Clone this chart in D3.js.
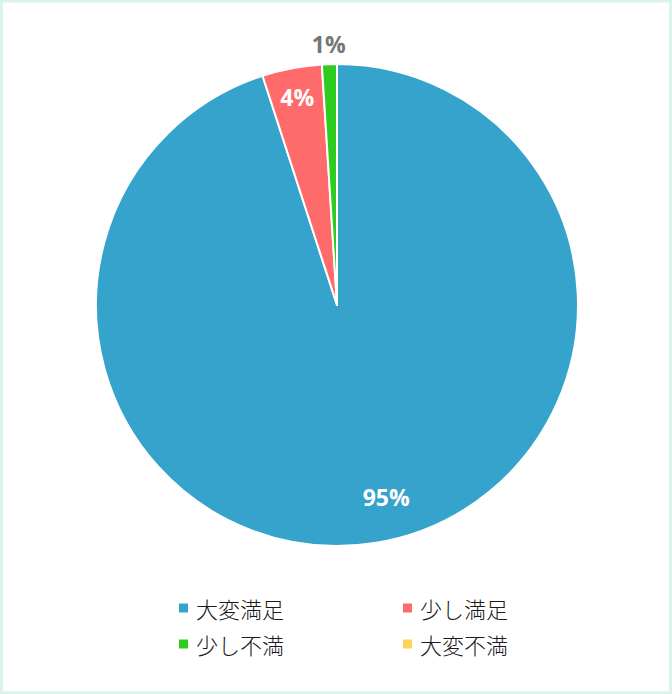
<!DOCTYPE html>
<html>
<head>
<meta charset="utf-8">
<script src="https://cdn.jsdelivr.net/npm/d3@7"></script>
<style>
  html, body { margin: 0; padding: 0; background: #fff; }
  #chart { width: 672px; height: 694px; }
</style>
</head>
<body>
<div id="chart"></div>
<script>
// Chart data
const categories = ["大変満足", "少し満足", "少し不満", "大変不満"];
const values = [95, 4, 1, 0];
const colors = ["#36a3cd", "#ff6b6b", "#2dcc1e", "#ffd25e"];

const width = 672, height = 694;
const cx = 337, cy = 305, radius = 241;

const svg = d3.select("#chart").append("svg")
  .attr("width", width)
  .attr("height", height);

// light frame round the picture
svg.append("rect")
  .attr("x", 1.5).attr("y", 1)
  .attr("width", width - 3).attr("height", height - 2)
  .attr("fill", "none")
  .attr("stroke", "#d7f5eb")
  .attr("stroke-width", 3);

const data = categories.map((c, i) => ({ name: c, value: values[i], color: colors[i] }));

const pie = d3.pie().value(d => d.value).sort(null);
const arcs = pie(data);

const arc = d3.arc().innerRadius(0).outerRadius(radius);

const g = svg.append("g").attr("transform", `translate(${cx},${cy})`);

g.selectAll("path")
  .data(arcs.filter(d => d.value > 0))
  .join("path")
  .attr("d", arc)
  .attr("fill", d => d.data.color)
  .attr("stroke", "#fff")
  .attr("stroke-width", 2)
  .attr("stroke-linejoin", "round");

// percentage labels: inside for big slices, outside for the tiny one
const labelArc = d3.arc().innerRadius(radius * 0.88).outerRadius(radius * 0.88);
const outerArc = d3.arc().innerRadius(radius + 20).outerRadius(radius + 20);
// the big slice label sits a bit off its mid-angle in the original
const labelNudge = { "大変満足": [16, -17] };

g.selectAll("text.pct")
  .data(arcs.filter(d => d.value > 0))
  .join("text")
  .attr("class", "pct")
  .attr("transform", d => {
    const p = d.value < 2 ? outerArc.centroid(d) : labelArc.centroid(d);
    const n = labelNudge[d.data.name] || [0, 0];
    return `translate(${p[0] + n[0]},${p[1] + n[1]})`;
  })
  .attr("text-anchor", "middle")
  .attr("dominant-baseline", "central")
  .attr("font-family", "'Open Sans', 'Noto Sans', sans-serif")
  .attr("font-weight", "bold")
  .attr("font-size", 23)
  .attr("fill", d => d.value < 2 ? "#767676" : "#fff")
  .text(d => d.value + "%");

// legend, two columns
const legend = svg.append("g").attr("class", "legend");
const colX = [179, 403], rowY = [608, 644];

const item = legend.selectAll("g")
  .data(data)
  .join("g")
  .attr("transform", (d, i) => `translate(${colX[i % 2]},${rowY[Math.floor(i / 2)]})`);

item.append("rect")
  .attr("x", 0).attr("y", -4.5)
  .attr("width", 9).attr("height", 9)
  .attr("fill", d => d.color);

item.append("text")
  .attr("x", 17)
  .attr("y", 0)
  .attr("dominant-baseline", "central")
  .attr("font-family", "'Noto Sans CJK JP', sans-serif")
  .attr("font-weight", 300)
  .attr("font-size", 22)
  .attr("fill", "#1a1a1a")
  .text(d => d.name);
</script>
</body>
</html>
